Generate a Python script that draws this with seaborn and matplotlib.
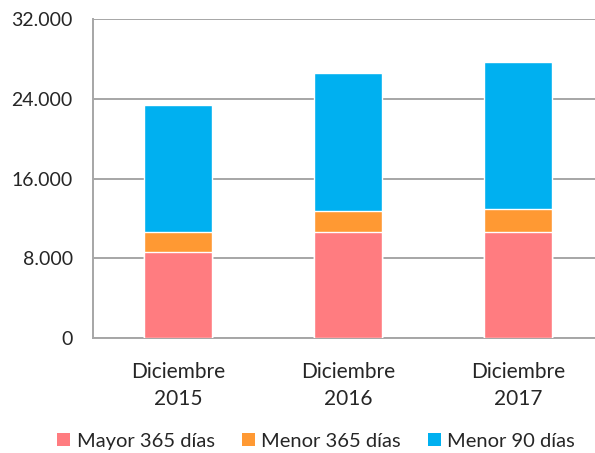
import numpy as np
import pandas as pd
import matplotlib
matplotlib.use('Agg')
import matplotlib.pyplot as plt
import seaborn as sns
from matplotlib.ticker import FuncFormatter
from matplotlib.patches import Patch

# Values
periods = ['Diciembre\n2015', 'Diciembre\n2016', 'Diciembre\n2017']
mayor_365 = [8600, 10600, 10600]
menor_365 = [2000, 2140, 2340]
menor_90 = [12800, 13810, 14710]
series_names = ['Mayor 365 días', 'Menor 365 días', 'Menor 90 días']
colors = ['#FF7C80', '#FF9933', '#00B0F0']

df = pd.DataFrame({'periodo': periods, 'mayor': mayor_365, 'menor365': menor_365, 'menor90': menor_90})
df['c1'] = df['mayor']
df['c2'] = df['c1'] + df['menor365']
df['c3'] = df['c2'] + df['menor90']

sns.set_style('white')
plt.rcParams['font.family'] = ['Lato', 'DejaVu Sans']

fig = plt.figure(figsize=(5.95, 4.53), dpi=100)
ax = fig.add_axes([93 / 595, 115 / 453, 510 / 595, 319 / 453])

# stacked bars: draw cumulative totals from the top down
for col, color in zip(['c3', 'c2', 'c1'], colors[::-1]):
    sns.barplot(data=df, x='periodo', y=col, color=color, width=0.4,
                saturation=1, ax=ax, zorder=3)

ax.set_ylim(0, 32000)
ax.set_xlim(-0.5, 2.5)
ax.set_yticks([0, 8000, 16000, 24000, 32000])
ax.yaxis.set_major_formatter(FuncFormatter(lambda v, p: f'{int(v):,}'.replace(',', '.')))
ax.grid(axis='y', color='#A6A6A6', linewidth=1.4, zorder=0)
ax.set_xlabel('')
ax.set_ylabel('')

for s in ['top', 'right']:
    ax.spines[s].set_visible(False)
for s in ['left', 'bottom']:
    ax.spines[s].set_color('#A6A6A6')
    ax.spines[s].set_linewidth(1.4)

ax.tick_params(axis='y', length=5, color='#A6A6A6', width=1.2, labelsize=14, pad=9.5)
ax.tick_params(axis='x', which='major', length=0, labelsize=15, pad=17)
ax.set_xticks([-0.5, 0.5, 1.5, 2.5], minor=True)
ax.tick_params(axis='x', which='minor', length=6, color='#A6A6A6', width=1.2, direction='out')
for lbl in ax.get_xticklabels():
    lbl.set_linespacing(1.45)

handles = [Patch(facecolor=c, edgecolor='none') for c in colors]
fig.legend(handles, series_names, loc='center', bbox_to_anchor=(0.531, 0.026),
           ncol=3, frameon=False, fontsize=14.5, handlelength=0.65, handleheight=0.65,
           handletextpad=0.3, columnspacing=1.35)

fig.savefig('out.png', dpi=100)
